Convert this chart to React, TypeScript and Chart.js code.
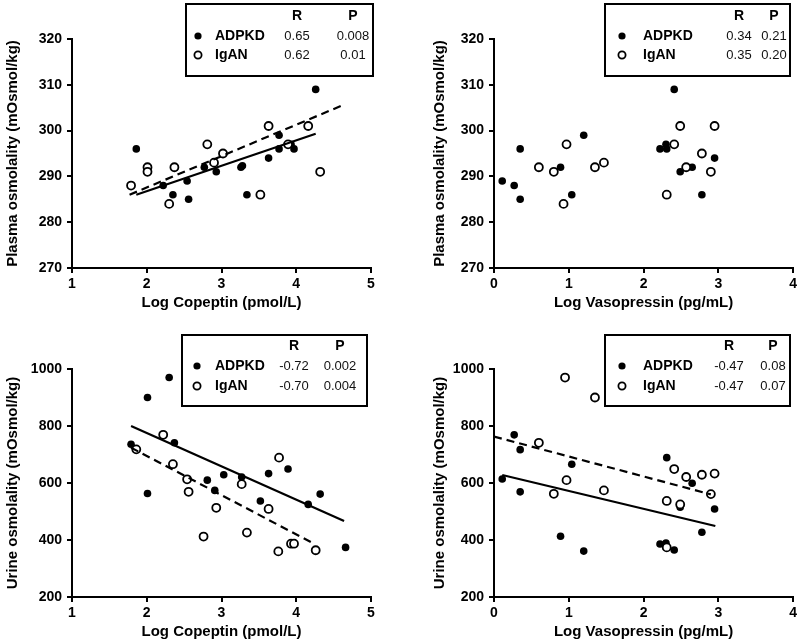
import React, { useEffect, useRef } from "react";
import { Chart, registerables } from "chart.js";

Chart.register(...registerables);

type Pt = [number, number];

// ---- Panel A: plasma osmolality vs log copeptin ----
const plasmaCopeptinAdpkd: Pt[] = [
  [1.86, 296], [2.22, 288], [2.35, 286], [2.54, 289], [2.56, 285], [2.77, 292],
  [2.93, 291], [3.26, 292], [3.28, 292.3], [3.34, 286], [3.63, 294], [3.77, 299],
  [3.77, 296], [3.93, 297], [3.97, 296], [4.26, 309],
];
const plasmaCopeptinIgan: Pt[] = [
  [1.79, 288], [2.01, 292], [2.01, 291], [2.30, 284], [2.37, 292], [2.81, 297],
  [2.90, 293], [3.02, 295], [3.52, 286], [3.63, 301], [3.89, 297], [4.16, 301],
  [4.32, 291],
];
const plasmaCopeptinAdpkdFit: Pt[] = [[1.86, 286.0], [4.26, 299.3]];
const plasmaCopeptinIganFit: Pt[] = [[1.77, 286.0], [4.63, 305.6]];

// ---- Panel B: plasma osmolality vs log vasopressin ----
const plasmaVasoAdpkd: Pt[] = [
  [0.11, 289], [0.27, 288], [0.35, 296], [0.35, 285], [0.89, 292], [1.04, 286],
  [1.20, 299], [2.22, 296], [2.30, 297], [2.31, 296], [2.41, 309], [2.49, 291],
  [2.65, 292], [2.78, 286], [2.95, 294],
];
const plasmaVasoIgan: Pt[] = [
  [0.60, 292], [0.80, 291], [0.97, 297], [0.93, 284], [1.35, 292], [1.47, 293],
  [2.31, 286], [2.41, 297], [2.49, 301], [2.57, 292], [2.78, 295], [2.90, 291],
  [2.95, 301],
];

// ---- Panel C: urine osmolality vs log copeptin ----
const urineCopeptinAdpkd: Pt[] = [
  [1.79, 736], [2.01, 900], [2.01, 563], [2.30, 970], [2.37, 741], [2.81, 610],
  [2.91, 574], [3.03, 629], [3.27, 621], [3.52, 537], [3.63, 633], [3.89, 649],
  [4.16, 525], [4.32, 561], [4.66, 374],
];
const urineCopeptinIgan: Pt[] = [
  [1.86, 718], [2.22, 769], [2.35, 666], [2.54, 613], [2.56, 569], [2.76, 412],
  [2.93, 513], [3.27, 596], [3.34, 426], [3.63, 509], [3.77, 689], [3.76, 360],
  [3.93, 387], [3.97, 387], [4.26, 364],
];
const urineCopeptinAdpkdFit: Pt[] = [[1.79, 800], [4.64, 467]];
const urineCopeptinIganFit: Pt[] = [[1.79, 724], [4.23, 388]];

// ---- Panel D: urine osmolality vs log vasopressin ----
const urineVasoAdpkd: Pt[] = [
  [0.11, 614], [0.27, 769], [0.35, 717], [0.35, 569], [0.89, 413], [1.04, 666],
  [1.20, 361], [2.22, 386], [2.30, 389], [2.31, 689], [2.41, 365], [2.49, 515],
  [2.65, 599], [2.78, 427], [2.95, 509],
];
const urineVasoIgan: Pt[] = [
  [0.60, 741], [0.80, 562], [0.95, 970], [0.97, 610], [1.35, 900], [1.47, 574],
  [2.31, 537], [2.31, 374], [2.41, 649], [2.49, 525], [2.57, 621], [2.78, 629],
  [2.90, 561], [2.95, 633],
];
const urineVasoAdpkdFit: Pt[] = [[0.11, 628], [2.96, 449]];
const urineVasoIganFit: Pt[] = [[0.0, 763], [2.90, 560]];

// ---- Statistics boxes ----
const groupNames = ["ADPKD", "IgAN"];
const statHeaders = ["R", "P"];
const plasmaCopeptinR = ["0.65", "0.62"];
const plasmaCopeptinP = ["0.008", "0.01"];
const plasmaVasoR = ["0.34", "0.35"];
const plasmaVasoP = ["0.21", "0.20"];
const urineCopeptinR = ["-0.72", "-0.70"];
const urineCopeptinP = ["0.002", "0.004"];
const urineVasoR = ["-0.47", "-0.47"];
const urineVasoP = ["0.08", "0.07"];

const xTitleCopeptin = "Log Copeptin (pmol/L)";
const xTitleVaso = "Log Vasopressin (pg/mL)";
const yTitlePlasma = "Plasma osmolality (mOsmol/kg)";
const yTitleUrine = "Urine osmolality (mOsmol/kg)";

const FONT = "'Liberation Sans', Arial, Helvetica, sans-serif";

type Box = {
  l: number; t: number; r: number; b: number;
  markerX: number; nameX: number; rX: number; pX: number; rows: number[];
};

type PanelSpec = {
  left: number; top: number; width: number; height: number;
  padTop: number; padRight: number; yWidth: number; xHeight: number;
  yTitlePad: number; xTitlePad: number;
  xMin: number; xMax: number; yMin: number; yMax: number; yStep: number;
  xTitle: string; yTitle: string;
  adpkd: Pt[]; igan: Pt[]; adpkdFit?: Pt[]; iganFit?: Pt[];
  rVals: string[]; pVals: string[];
  box: Box;
};

const panels: PanelSpec[] = [
  {
    left: 0, top: 0, width: 420, height: 321,
    padTop: 39, padRight: 49, yWidth: 72, xHeight: 53, yTitlePad: 4, xTitlePad: 9,
    xMin: 1, xMax: 5, yMin: 270, yMax: 320, yStep: 10,
    xTitle: xTitleCopeptin, yTitle: yTitlePlasma,
    adpkd: plasmaCopeptinAdpkd, igan: plasmaCopeptinIgan,
    adpkdFit: plasmaCopeptinAdpkdFit, iganFit: plasmaCopeptinIganFit,
    rVals: plasmaCopeptinR, pVals: plasmaCopeptinP,
    box: { l: 186, t: 4, r: 373, b: 76, markerX: 198, nameX: 215, rX: 297, pX: 353, rows: [16, 36, 55] },
  },
  {
    left: 420, top: 0, width: 380, height: 321,
    padTop: 39, padRight: 6, yWidth: 74, xHeight: 53, yTitlePad: 11, xTitlePad: 9,
    xMin: 0, xMax: 4, yMin: 270, yMax: 320, yStep: 10,
    xTitle: xTitleVaso, yTitle: yTitlePlasma,
    adpkd: plasmaVasoAdpkd, igan: plasmaVasoIgan,
    rVals: plasmaVasoR, pVals: plasmaVasoP,
    box: { l: 605, t: 4, r: 790, b: 76, markerX: 622, nameX: 643, rX: 739, pX: 774, rows: [16, 36, 55] },
  },
  {
    left: 0, top: 321, width: 420, height: 322,
    padTop: 48, padRight: 49, yWidth: 72, xHeight: 46, yTitlePad: 4, xTitlePad: 2,
    xMin: 1, xMax: 5, yMin: 200, yMax: 1000, yStep: 200,
    xTitle: xTitleCopeptin, yTitle: yTitleUrine,
    adpkd: urineCopeptinAdpkd, igan: urineCopeptinIgan,
    adpkdFit: urineCopeptinAdpkdFit, iganFit: urineCopeptinIganFit,
    rVals: urineCopeptinR, pVals: urineCopeptinP,
    box: { l: 182, t: 335, r: 367, b: 406, markerX: 197, nameX: 215, rX: 294, pX: 340, rows: [346, 366, 386] },
  },
  {
    left: 420, top: 321, width: 380, height: 322,
    padTop: 48, padRight: 6, yWidth: 74, xHeight: 46, yTitlePad: 11, xTitlePad: 2,
    xMin: 0, xMax: 4, yMin: 200, yMax: 1000, yStep: 200,
    xTitle: xTitleVaso, yTitle: yTitleUrine,
    adpkd: urineVasoAdpkd, igan: urineVasoIgan,
    adpkdFit: urineVasoAdpkdFit, iganFit: urineVasoIganFit,
    rVals: urineVasoR, pVals: urineVasoP,
    box: { l: 605, t: 335, r: 790, b: 406, markerX: 622, nameX: 643, rX: 729, pX: 773, rows: [346, 366, 386] },
  },
];

function makeStatsPlugin(spec: PanelSpec) {
  return {
    id: "statsBox",
    afterDraw(chart: any) {
      const ctx: CanvasRenderingContext2D = chart.ctx;
      const b = spec.box;
      const ox = spec.left;
      const oy = spec.top;
      ctx.save();
      ctx.fillStyle = "#fff";
      ctx.fillRect(b.l - ox, b.t - oy, b.r - b.l, b.b - b.t);
      ctx.lineWidth = 2;
      ctx.strokeStyle = "#000";
      ctx.strokeRect(b.l - ox, b.t - oy, b.r - b.l, b.b - b.t);
      ctx.fillStyle = "#000";
      ctx.textBaseline = "middle";
      ctx.textAlign = "center";
      ctx.font = `bold 14px ${FONT}`;
      ctx.fillText(statHeaders[0], b.rX - ox, b.rows[0] - oy);
      ctx.fillText(statHeaders[1], b.pX - ox, b.rows[0] - oy);
      for (let i = 0; i < groupNames.length; i++) {
        const y = b.rows[i + 1] - oy;
        ctx.beginPath();
        ctx.arc(b.markerX - ox, y, 3.6, 0, Math.PI * 2);
        if (i === 0) {
          ctx.fillStyle = "#000";
          ctx.fill();
        } else {
          ctx.lineWidth = 1.8;
          ctx.strokeStyle = "#000";
          ctx.stroke();
        }
        ctx.fillStyle = "#000";
        ctx.textAlign = "left";
        ctx.font = `bold 14px ${FONT}`;
        ctx.fillText(groupNames[i], b.nameX - ox, y);
        ctx.textAlign = "center";
        ctx.font = `13px ${FONT}`;
        ctx.fillStyle = "#111";
        ctx.fillText(spec.rVals[i], b.rX - ox, y);
        ctx.fillText(spec.pVals[i], b.pX - ox, y);
      }
      ctx.restore();
    },
  };
}

const toXY = (pts: Pt[]) => pts.map(([x, y]) => ({ x, y }));

function Panel({ spec }: { spec: PanelSpec }) {
  const ref = useRef<HTMLCanvasElement | null>(null);
  useEffect(() => {
    if (!ref.current) return;
    const datasets: any[] = [];
    if (spec.adpkdFit) {
      datasets.push({
        type: "line", data: toXY(spec.adpkdFit), borderColor: "#000", borderWidth: 2.2,
        pointRadius: 0, fill: false, order: 0,
      });
    }
    if (spec.iganFit) {
      datasets.push({
        type: "line", data: toXY(spec.iganFit), borderColor: "#000", borderWidth: 2.2,
        borderDash: [8, 5], pointRadius: 0, fill: false, order: 0,
      });
    }
    datasets.push({
      type: "scatter", data: toXY(spec.igan), pointRadius: 4, pointBorderWidth: 1.8,
      borderColor: "#000", backgroundColor: "#fff", pointBackgroundColor: "#fff",
      pointBorderColor: "#000", order: 1,
    });
    datasets.push({
      type: "scatter", data: toXY(spec.adpkd), pointRadius: 3.8, pointBorderWidth: 0,
      borderColor: "#000", backgroundColor: "#000", pointBackgroundColor: "#000", order: 2,
    });
    const tickFont = { family: FONT, size: 14, weight: "bold" as const };
    const titleFont = { family: FONT, size: 15, weight: "bold" as const };
    const chart = new Chart(ref.current, {
      type: "scatter",
      data: { datasets },
      options: {
        animation: false,
        responsive: false,
        devicePixelRatio: 1,
        layout: { padding: { top: spec.padTop, right: spec.padRight, left: 0, bottom: 0 } },
        plugins: { legend: { display: false }, tooltip: { enabled: false } },
        scales: {
          x: {
            type: "linear", min: spec.xMin, max: spec.xMax,
            ticks: { stepSize: 1, color: "#000", font: tickFont, padding: 3, callback: (v: any) => String(v) },
            grid: { drawOnChartArea: false, drawTicks: true, tickLength: 5, color: "#000", lineWidth: 2 },
            border: { display: true, color: "#000", width: 2 },
            title: { display: true, text: spec.xTitle, color: "#000", font: titleFont, padding: { top: 0, bottom: spec.xTitlePad } },
            afterFit: (s: any) => { s.height = spec.xHeight; },
          },
          y: {
            type: "linear", min: spec.yMin, max: spec.yMax,
            ticks: { stepSize: spec.yStep, color: "#000", font: tickFont, padding: 5, callback: (v: any) => String(v) },
            grid: { drawOnChartArea: false, drawTicks: true, tickLength: 5, color: "#000", lineWidth: 2 },
            border: { display: true, color: "#000", width: 2 },
            title: { display: true, text: spec.yTitle, color: "#000", font: titleFont, padding: { top: spec.yTitlePad, bottom: 0 } },
            afterFit: (s: any) => { s.width = spec.yWidth; },
          },
        },
      } as any,
      plugins: [makeStatsPlugin(spec)],
    });
    return () => chart.destroy();
  }, [spec]);
  return (
    <canvas
      ref={ref}
      width={spec.width}
      height={spec.height}
      style={{ position: "absolute", left: spec.left, top: spec.top, width: spec.width, height: spec.height }}
    />
  );
}

export default function App() {
  return (
    <div style={{ position: "absolute", left: 0, top: 0, width: 800, height: 643, background: "#fff", overflow: "hidden" }}>
      {panels.map((p, i) => (
        <Panel key={i} spec={p} />
      ))}
    </div>
  );
}
